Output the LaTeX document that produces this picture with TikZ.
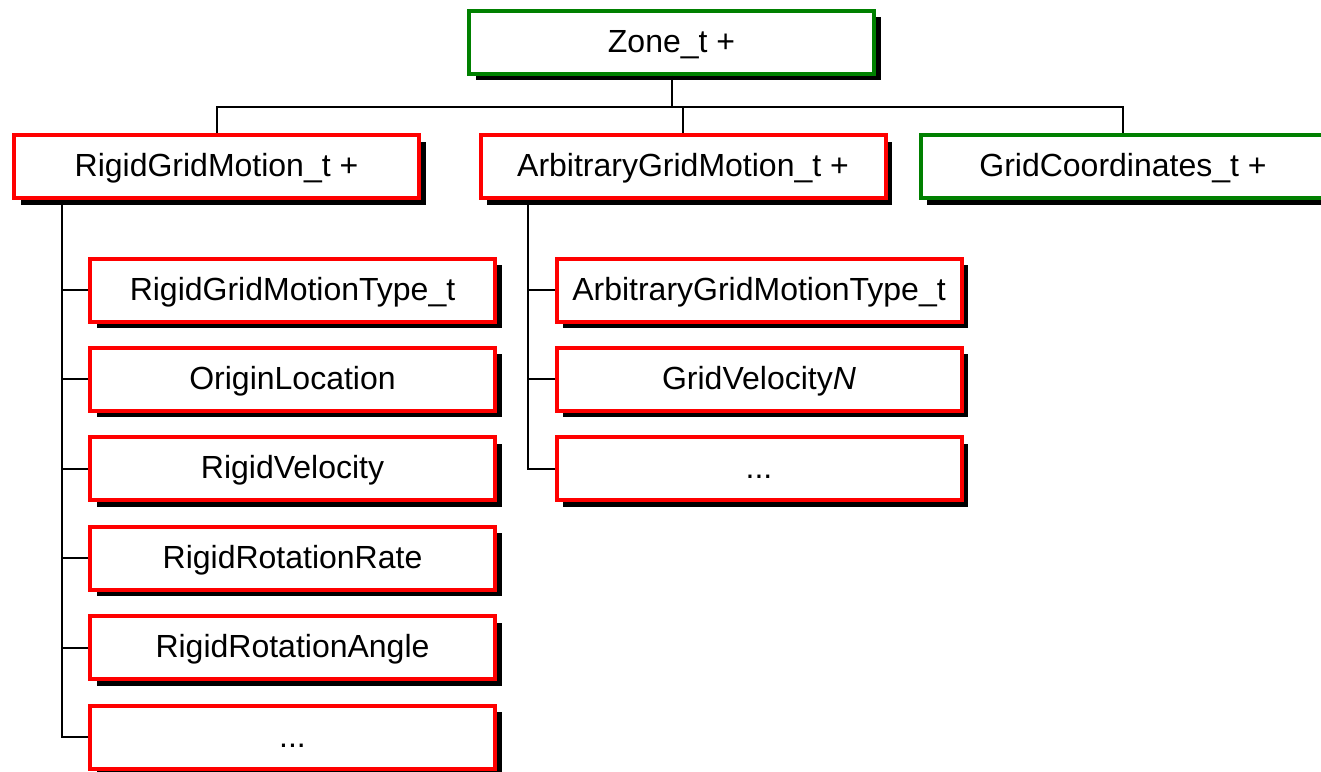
\documentclass[tikz,border=0pt]{standalone}
\usepackage{fontspec}
\setmainfont{Liberation Sans}
\usetikzlibrary{shadows}
\definecolor{boxred}{RGB}{255,0,0}
\definecolor{boxgreen}{RGB}{0,128,0}
\tikzset{
  box/.style={draw, line width=2pt, fill=white, inner sep=0pt,
    minimum width=202.5pt, minimum height=31.5pt,
    text height=11pt, text depth=1pt,
    font=\fontsize{16}{18}\selectfont,
    drop shadow={shadow xshift=3.25pt, shadow yshift=-3.25pt, fill=black, opacity=1}},
  redbox/.style={box, draw=boxred},
  greenbox/.style={box, draw=boxgreen},
  link/.style={draw=black, line width=1pt}
}
\begin{document}
\begin{tikzpicture}[x=0.5pt, y=-0.5pt]
  \useasboundingbox (0,0) rectangle (1321,771);
  \fill[white] (0,0) rectangle (1321,771);

  % top-level node and its three children
  \node[greenbox] (zone) at (671.5,42) {Zone\_t +};
  \node[redbox]   (rgm)  at (216.5,166.5) {RigidGridMotion\_t +};
  \node[redbox]   (agm)  at (683,166.5) {ArbitraryGridMotion\_t +};
  \node[greenbox] (grid) at (1123,166.5) {GridCoordinates\_t +};

  % rigid grid motion members
  \node[redbox] (r1) at (292.5,290)   {RigidGridMotionType\_t};
  \node[redbox] (r2) at (292.5,379.4) {OriginLocation};
  \node[redbox] (r3) at (292.5,468.8) {RigidVelocity};
  \node[redbox] (r4) at (292.5,558.2) {RigidRotationRate};
  \node[redbox] (r5) at (292.5,647.6) {RigidRotationAngle};
  \node[redbox] (r6) at (292.5,737)   {...};

  % arbitrary grid motion members
  \node[redbox] (a1) at (759,290)   {ArbitraryGridMotionType\_t};
  \node[redbox] (a2) at (759,379.4) {GridVelocity\textit{N}};
  \node[redbox] (a3) at (759,468.8) {...};

  % bus from Zone_t to its children
  \coordinate (bus) at (671.5,107);
  \draw[link] (zone.south) -- (bus);
  \draw[link] (rgm.north) |- (bus) -| (grid.north);
  \draw[link] (agm.north) -- (agm.north |- bus);

  % spine under RigidGridMotion_t
  \coordinate (rs) at (62,200);
  \draw[link] (rs) |- (r6.west);
  \foreach \n in {r1,r2,r3,r4,r5}
    \draw[link] (rs |- \n.west) -- (\n.west);

  % spine under ArbitraryGridMotion_t
  \coordinate (as) at (528,200);
  \draw[link] (as) |- (a3.west);
  \foreach \n in {a1,a2}
    \draw[link] (as |- \n.west) -- (\n.west);
\end{tikzpicture}
\end{document}
